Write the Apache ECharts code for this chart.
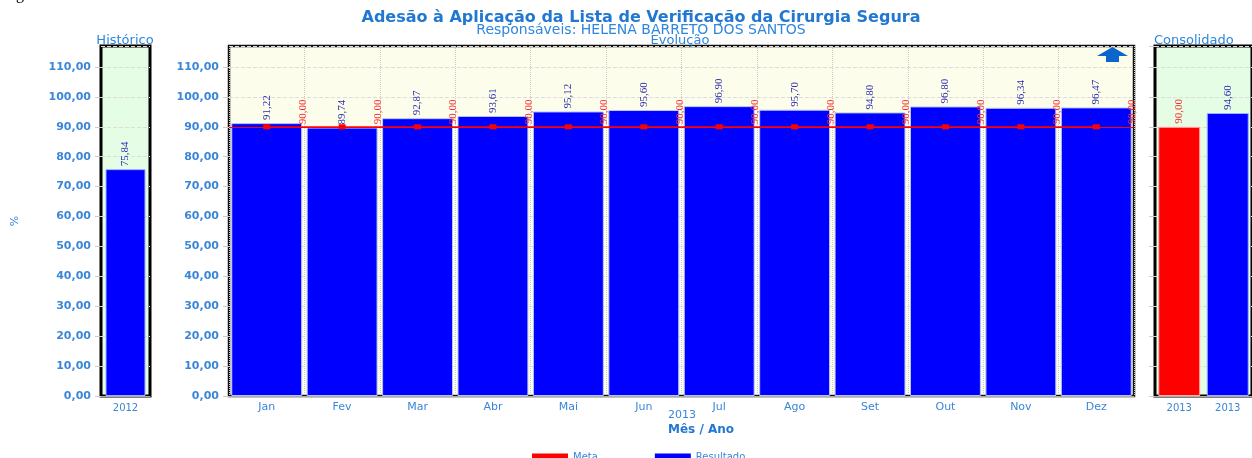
<!DOCTYPE html>
<html>
<head>
<meta charset="utf-8">
<script src="https://cdn.jsdelivr.net/npm/echarts@6/dist/echarts.min.js"></script>
<style>
  html, body { margin: 0; padding: 0; background: #fff; }
  #chart { width: 1252px; height: 458px; }
</style>
</head>
<body>
<div id="chart"></div>
<script>
// --- DATA ---
const months = ["Jan", "Fev", "Mar", "Abr", "Mai", "Jun", "Jul", "Ago", "Set", "Out", "Nov", "Dez"];
const resultado = [91.22, 89.74, 92.87, 93.61, 95.12, 95.6, 96.9, 95.7, 94.8, 96.8, 96.34, 96.47];
const meta = [90, 90, 90, 90, 90, 90, 90, 90, 90, 90, 90, 90];
const histYears = ["2012"];
const histValues = [75.84];
const consYears = ["2013", "2013"];
const consMeta = [90.0, "-"];
const consResultado = ["-", 94.6];

const BLUE_TXT = "#3a86d8";
const fmt = (v) => Number(v).toFixed(2).replace(".", ",");

const chart = echarts.init(document.getElementById("chart"));

// shared y axis settings
function yAxisOf(gridIndex, showLabels) {
  return {
    type: "value",
    gridIndex: gridIndex,
    min: 0,
    max: 117,
    interval: 10,
    axisLine: { show: false },
    axisTick: { show: true, length: 6, lineStyle: { color: "#ccc" } },
    axisLabel: {
      show: showLabels,
      showMaxLabel: false,
      margin: 10,
      color: BLUE_TXT,
      fontFamily: "DejaVu Sans",
      fontWeight: "bold",
      fontSize: 11,
      formatter: fmt,
    },
    splitLine: { lineStyle: { color: "#ddd", type: "dashed" } },
  };
}

function barLabel(color) {
  return {
    show: true,
    position: "top",
    rotate: 90,
    align: "left",
    verticalAlign: "middle",
    distance: 3,
    color: color,
    fontFamily: "Liberation Sans Narrow",
    fontSize: 11,
    formatter: (p) => fmt(p.value),
  };
}

function panelTitle(text, left, align) {
  return {
    text: text, left: left, top: 34, padding: 0, textAlign: align,
    textStyle: { color: "#2f86dc", fontSize: 13, fontWeight: "normal", fontFamily: "DejaVu Sans" },
  };
}

const option = {
  animation: false,
  textStyle: { fontFamily: "DejaVu Sans" },
  title: [
    {
      text: "Adesão à Aplicação da Lista de Verificação da Cirurgia Segura",
      left: 641, top: 10, padding: 0, textAlign: "center",
      textStyle: { color: "#2278d0", fontSize: 16, fontWeight: "bold", fontFamily: "DejaVu Sans" },
    },
    {
      text: "Responsáveis: HELENA BARRETO DOS SANTOS",
      left: 641, top: 23, padding: 0, textAlign: "center",
      textStyle: { color: "#2f86dc", fontSize: 14, fontWeight: "normal", fontFamily: "DejaVu Sans" },
    },
    panelTitle("Evolução", 680, "center"),
    panelTitle("Histórico", 125, "center"),
    panelTitle("Consolidado", 1154, "left"),
  ],
  legend: {
    data: ["Meta", "Resultado"],
    left: 527,
    top: 447,
    icon: "rect",
    itemWidth: 36,
    itemHeight: 7,
    itemGap: 57,
    itemStyle: { borderWidth: 0 },
    textStyle: { color: BLUE_TXT, fontSize: 10, fontFamily: "DejaVu Sans" },
  },
  grid: [
    { left: 101, width: 49, top: 46, bottom: 62, show: true, backgroundColor: "#e5fde5", borderColor: "#000", borderWidth: 3 },
    { left: 229, width: 905, top: 46, bottom: 62, show: true, backgroundColor: "#fdfdec", borderColor: "#111", borderWidth: 2.5 },
    { left: 1155, width: 100, top: 46, bottom: 62, show: true, backgroundColor: "#e5fde5", borderColor: "#000", borderWidth: 3 },
  ],
  xAxis: [
    {
      type: "category", gridIndex: 0, data: histYears,
      axisLine: { lineStyle: { color: "#aaa" } },
      axisTick: { show: false },
      axisLabel: { color: BLUE_TXT, fontSize: 10, margin: 7 },
    },
    {
      type: "category", gridIndex: 1, data: months,
      axisLine: { lineStyle: { color: "#aaa" } },
      axisTick: { length: 5, lineStyle: { color: "#bbb" } },
      axisLabel: { color: BLUE_TXT, fontSize: 11, margin: 6 },
      splitLine: { show: true, lineStyle: { color: "#ccc", type: "dotted" } },
    },
    {
      type: "category", gridIndex: 2, data: consYears,
      axisLine: { lineStyle: { color: "#aaa" } },
      axisTick: { show: false },
      axisLabel: { color: BLUE_TXT, fontSize: 10, margin: 7 },
    },
  ],
  yAxis: [
    Object.assign(yAxisOf(0, true), {
      name: "%",
      nameLocation: "middle",
      nameRotate: 90,
      nameGap: 80,
      nameTextStyle: { color: BLUE_TXT, fontSize: 11 },
    }),
    yAxisOf(1, true),
    yAxisOf(2, false),
  ],
  series: [
    {
      name: "Resultado",
      type: "bar",
      xAxisIndex: 0, yAxisIndex: 0,
      data: histValues,
      barWidth: 40,
      itemStyle: { color: "#0000ff", borderColor: "#9fb0ff", borderWidth: 1 },
      label: barLabel("#2a2ab0"),
    },
    {
      name: "Resultado",
      type: "bar",
      xAxisIndex: 1, yAxisIndex: 1,
      data: resultado,
      barCategoryGap: "6%",
      itemStyle: { color: "#0000ff", borderColor: "#b8c4ff", borderWidth: 1 },
      label: barLabel("#2a2ab0"),
    },
    {
      name: "Meta",
      type: "line",
      xAxisIndex: 1, yAxisIndex: 1,
      data: meta,
      symbol: "rect",
      symbolSize: [7, 5],
      itemStyle: { color: "#ff0000" },
      lineStyle: { color: "#ff0000", width: 1 },
      z: 5,
      label: {
        show: true,
        position: "top",
        rotate: 90,
        align: "left",
        verticalAlign: "middle",
        distance: 0,
        offset: [0, 36],
        color: "#ff2a2a",
        fontFamily: "Liberation Sans Narrow",
        fontSize: 11,
        formatter: (p) => fmt(p.value),
      },
      markLine: {
        silent: true,
        symbol: "none",
        label: { show: false },
        lineStyle: { color: "#ff0000", width: 1, type: "solid" },
        data: [{ yAxis: meta[0] }],
      },
    },
    {
      name: "Meta",
      type: "bar",
      xAxisIndex: 2, yAxisIndex: 2,
      stack: "cons",
      data: consMeta,
      barWidth: 42,
      itemStyle: { color: "#ff0000", borderColor: "#ffb0b0", borderWidth: 1 },
      label: barLabel("#ff2a2a"),
    },
    {
      name: "Resultado",
      type: "bar",
      xAxisIndex: 2, yAxisIndex: 2,
      stack: "cons",
      data: consResultado,
      barWidth: 40,
      itemStyle: { color: "#0000ff", borderColor: "#9fb0ff", borderWidth: 1 },
      label: barLabel("#2a2ab0"),
    },
  ],
  graphic: [
    // page text cut at top edge
    {
      type: "text", left: 0, top: -13,
      style: { text: "Segura no ano de 2013", fill: "#000", font: "16px 'Liberation Serif'" },
    },
    {
      type: "text", left: 668, top: 410,
      style: { text: "2013", fill: BLUE_TXT, font: "11px 'DejaVu Sans'", textAlign: "center" },
    },
    {
      type: "text", left: 668, top: 424,
      style: { text: "Mês / Ano", fill: "#2278d0", font: "bold 12px 'DejaVu Sans'", textAlign: "center" },
    },
    // up arrow icon
    {
      type: "polygon",
      shape: { points: [[1097, 56], [1112.5, 47], [1128, 56], [1119, 56], [1119, 62], [1106, 62], [1106, 56]] },
      style: { fill: "#0a66cc" },
      z: 10,
    },
  ],
};

chart.setOption(option);
</script>
</body>
</html>
